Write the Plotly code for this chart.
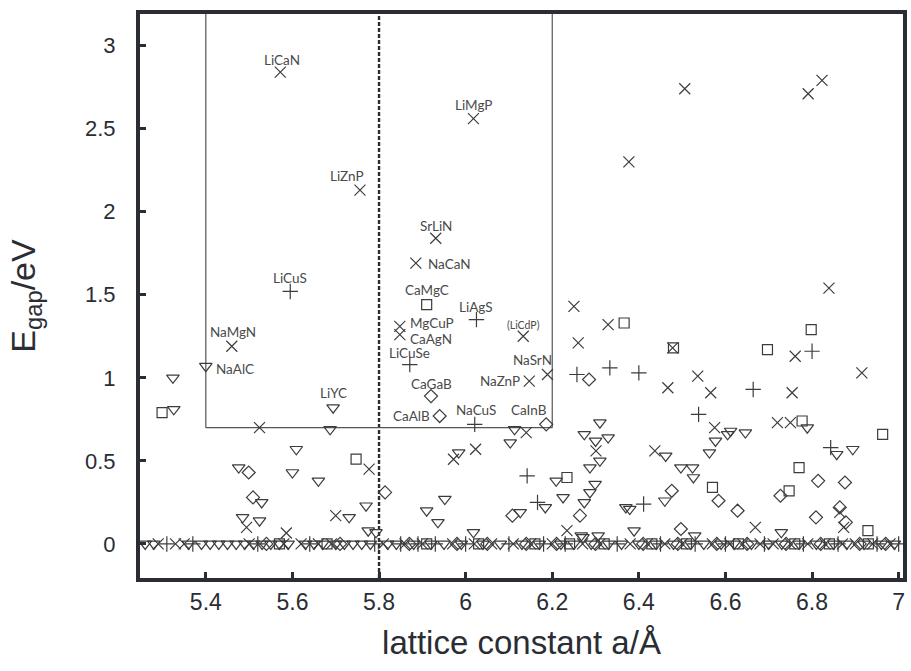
import plotly.graph_objects as go

# ---------------- data ----------------
cross_x = [5.572, 6.018, 5.756, 5.931, 5.885, 5.848, 5.848, 6.133, 5.460, 6.189, 6.147,
           5.524, 6.140, 5.777, 5.700, 5.494, 5.586, 5.972, 6.023, 6.301, 6.234,
           6.506, 6.791, 6.823, 6.377, 6.839, 6.250, 6.329, 6.260, 6.478, 6.536,
           6.467, 6.566, 6.761, 6.915, 6.754, 6.575, 6.720, 6.750, 6.437, 6.669,
           6.864, 6.873]
cross_y = [2.84, 2.56, 2.13, 1.84, 1.69, 1.31, 1.26, 1.25, 1.19, 1.02, 0.98,
           0.70, 0.67, 0.45, 0.17, 0.10, 0.066, 0.51, 0.57, 0.56, 0.08,
           2.74, 2.71, 2.79, 2.30, 1.54, 1.43, 1.32, 1.21, 1.18, 1.01,
           0.94, 0.91, 1.13, 1.03, 0.91, 0.70, 0.73, 0.73, 0.56, 0.10,
           0.19, 0.10]
cross_zero_x = [5.29, 5.33, 5.35, 5.50, 5.58, 5.62, 5.66, 5.69, 5.81, 5.86, 5.90, 5.97,
                6.02, 6.06, 6.11, 6.15, 6.20, 6.27, 6.31, 6.38, 6.42, 6.46, 6.50, 6.57,
                6.61, 6.64, 6.68, 6.71, 6.75, 6.79, 6.83, 6.87, 6.90, 6.94, 6.98]

plus_x = [5.595, 6.025, 5.871, 6.021, 6.257, 6.333, 6.400, 6.664, 6.800, 6.538,
          6.843, 6.142, 6.166, 6.411]
plus_y = [1.52, 1.35, 1.08, 0.72, 1.02, 1.06, 1.03, 0.93, 1.16, 0.78,
          0.58, 0.41, 0.25, 0.24]
plus_zero_x = [5.31, 5.37, 5.52, 5.64, 5.79, 5.85, 5.89, 5.93, 6.00, 6.10, 6.18, 6.23,
               6.35, 6.45, 6.53, 6.60, 6.69, 6.78, 6.86, 6.95, 7.00]

square_x = [5.910, 5.299, 5.747, 6.366, 6.480, 6.697, 6.798, 6.777, 6.963, 6.234,
            6.770, 6.747, 6.570, 6.929]
square_y = [1.44, 0.79, 0.51, 1.33, 1.18, 1.17, 1.29, 0.74, 0.66, 0.40,
            0.46, 0.32, 0.34, 0.08]
square_zero_x = [5.57, 5.68, 5.91, 6.03, 6.16, 6.24, 6.32, 6.43, 6.51, 6.63, 6.76,
                 6.84, 6.93]

diamond_x = [5.920, 5.940, 6.186, 6.285, 5.499, 5.509, 5.814, 6.108, 6.264, 6.476,
             6.497, 6.584, 6.628, 6.727, 6.814, 6.876, 6.809, 6.864, 6.878]
diamond_y = [0.89, 0.77, 0.72, 0.99, 0.43, 0.28, 0.31, 0.17, 0.17, 0.32,
             0.09, 0.26, 0.20, 0.29, 0.38, 0.37, 0.16, 0.22, 0.13]
diamond_zero_x = [5.54, 5.71, 5.87, 5.98, 6.05, 6.14, 6.21, 6.30, 6.41, 6.49, 6.58,
                  6.65, 6.74, 6.82, 6.91, 6.97]

tri_x = [5.400, 5.324, 5.326, 5.694, 5.687, 6.113, 5.609, 5.476, 5.600, 5.660,
         5.529, 5.770, 5.485, 5.524, 5.731, 5.775, 5.793, 6.103, 5.984, 5.952,
         5.910, 5.936, 6.018, 6.126, 6.184, 6.209, 6.225, 6.310, 6.274, 6.300,
         6.329, 6.310, 6.287, 6.299, 6.287, 6.274, 6.370, 6.271, 6.306, 6.379,
         6.462, 6.497, 6.524, 6.526, 6.460, 6.563, 6.577, 6.605, 6.612, 6.389,
         6.529, 6.267, 6.646, 6.789, 6.857, 6.894, 6.729]
tri_y = [1.07, 1.00, 0.81, 0.82, 0.69, 0.69, 0.57, 0.46, 0.43, 0.38,
         0.25, 0.23, 0.16, 0.14, 0.16, 0.08, 0.07, 0.61, 0.55, 0.27,
         0.20, 0.13, 0.07, 0.19, 0.22, 0.38, 0.28, 0.73, 0.66, 0.62,
         0.64, 0.50, 0.46, 0.36, 0.31, 0.25, 0.22, 0.04, 0.05, 0.21,
         0.53, 0.46, 0.46, 0.40, 0.26, 0.55, 0.62, 0.66, 0.68, 0.08,
         0.05, 0.05, 0.67, 0.70, 0.54, 0.57, 0.07]
tri_zero_x = [5.26, 5.28, 5.36, 5.39, 5.41, 5.43, 5.45, 5.47, 5.49, 5.51, 5.53, 5.55,
              5.57, 5.59, 5.63, 5.65, 5.67, 5.70, 5.72, 5.74, 5.76, 5.78, 5.82, 5.84,
              5.88, 5.92, 5.95, 5.99, 6.04, 6.08, 6.13, 6.17, 6.22, 6.25, 6.29, 6.33,
              6.36, 6.40, 6.44, 6.48, 6.52, 6.55, 6.59, 6.62, 6.66, 6.70, 6.73, 6.77,
              6.81, 6.85, 6.88, 6.92, 6.96, 6.99]

label_text = ["LiCaN", "LiMgP", "LiZnP", "SrLiN", "NaCaN", "LiCuS", "CaMgC", "LiAgS",
              "MgCuP", "CaAgN", "(LiCdP)", "NaMgN", "NaAlC", "LiCuSe", "NaSrN", "NaZnP",
              "LiYC", "CaGaB", "CaAlB", "NaCuS", "CaInB"]
label_x = [5.575, 6.018, 5.726, 5.931, 5.908, 5.595, 5.910, 6.025,
           5.867, 5.867, 6.133, 5.462, 5.418, 5.871, 6.154, 6.129,
           5.694, 5.920, 5.922, 6.025, 6.147]
label_y = [2.916, 2.645, 2.217, 1.916, 1.687, 1.602, 1.530, 1.428,
           1.327, 1.232, 1.319, 1.277, 1.054, 1.151, 1.108, 0.982,
           0.910, 0.964, 0.771, 0.807, 0.807]
label_anchor = ["center", "center", "center", "center", "left", "center", "center", "center",
                "left", "left", "center", "center", "left", "center", "center", "right",
                "center", "center", "right", "center", "center"]

x_ticks = [5.4, 5.6, 5.8, 6.0, 6.2, 6.4, 6.6, 6.8, 7.0]
x_tick_text = ["5.4", "5.6", "5.8", "6", "6.2", "6.4", "6.6", "6.8", "7"]
y_ticks = [0, 0.5, 1, 1.5, 2, 2.5, 3]
y_tick_text = ["0", "0.5", "1", "1.5", "2", "2.5", "3"]

box_x = [5.4, 6.2]
box_ybottom = 0.7
box_ytop = 3.19
dash_x = 5.8

# ---------------- figure ----------------
MC = "#3c3c3c"
fig = go.Figure()


def add(xs, ys, symbol, size):
    fig.add_trace(go.Scatter(
        x=xs, y=ys, mode="markers", showlegend=False, hoverinfo="skip",
        marker=dict(symbol=symbol, size=size, color=MC,
                    line=dict(color=MC, width=1.2))))


add(tri_x + tri_zero_x, tri_y + [0.0] * len(tri_zero_x), "triangle-down-open", 11)
add(diamond_x + diamond_zero_x, diamond_y + [0.0] * len(diamond_zero_x), "diamond-open", 10)
add(square_x + square_zero_x, square_y + [0.0] * len(square_zero_x), "square-open", 10)
add(plus_x + plus_zero_x, plus_y + [0.0] * len(plus_zero_x), "cross-thin-open", 11)
add(cross_x + cross_zero_x, cross_y + [0.0] * len(cross_zero_x), "x-thin-open", 11)

# inner box (open at the top) and dashed line
for bx in box_x:
    fig.add_shape(type="line", x0=bx, x1=bx, y0=box_ybottom, y1=box_ytop, xref="x", yref="y",
                  line=dict(color="#555555", width=1.2), layer="below")
fig.add_shape(type="line", x0=box_x[0], x1=box_x[1], y0=box_ybottom, y1=box_ybottom,
              xref="x", yref="y", line=dict(color="#555555", width=1.2), layer="below")
fig.add_shape(type="line", x0=dash_x, x1=dash_x, y0=0, y1=1, xref="x", yref="paper",
              line=dict(color="#2a2d33", width=2.4, dash="4px,2px"), layer="below")

for t, lx, ly, an in zip(label_text, label_x, label_y, label_anchor):
    fig.add_annotation(x=lx, y=ly, xref="x", yref="y", text=t, showarrow=False,
                       xanchor=an, yanchor="middle",
                       font=dict(family="Lato, Open Sans, sans-serif",
                                 size=10.5 if t.startswith("(") else 13.5, color="#4a4a4a"))

sans = "Liberation Sans, Arial, sans-serif"
fig.update_layout(
    width=911, height=671,
    margin=dict(l=140, r=4, t=14, b=93),
    paper_bgcolor="white", plot_bgcolor="white",
    xaxis=dict(range=[5.248, 7.01], tickvals=x_ticks, ticktext=x_tick_text,
               showgrid=False, zeroline=False, showline=True, mirror=True,
               linecolor="#2a2d33", linewidth=4, ticks="inside", ticklen=6,
               tickwidth=3, tickcolor="#2a2d33",
               tickfont=dict(family=sans, size=23, color="#2a2d33"),
               title=dict(text="lattice constant a/Å", standoff=18,
                          font=dict(family=sans, size=33, color="#2a2d33"))),
    yaxis=dict(range=[-0.205, 3.19], tickvals=y_ticks, ticktext=y_tick_text,
               showgrid=False, zeroline=False, showline=True, mirror=True,
               linecolor="#2a2d33", linewidth=4, ticks="inside", ticklen=6,
               tickwidth=3, tickcolor="#2a2d33", ticklabelstandoff=16,
               tickfont=dict(family=sans, size=22, color="#2a2d33"),
               title=dict(text="E<sub>gap</sub>/eV", standoff=40,
                          font=dict(family=sans, size=34, color="#2a2d33"))),
)

fig.write_html("out.html")
